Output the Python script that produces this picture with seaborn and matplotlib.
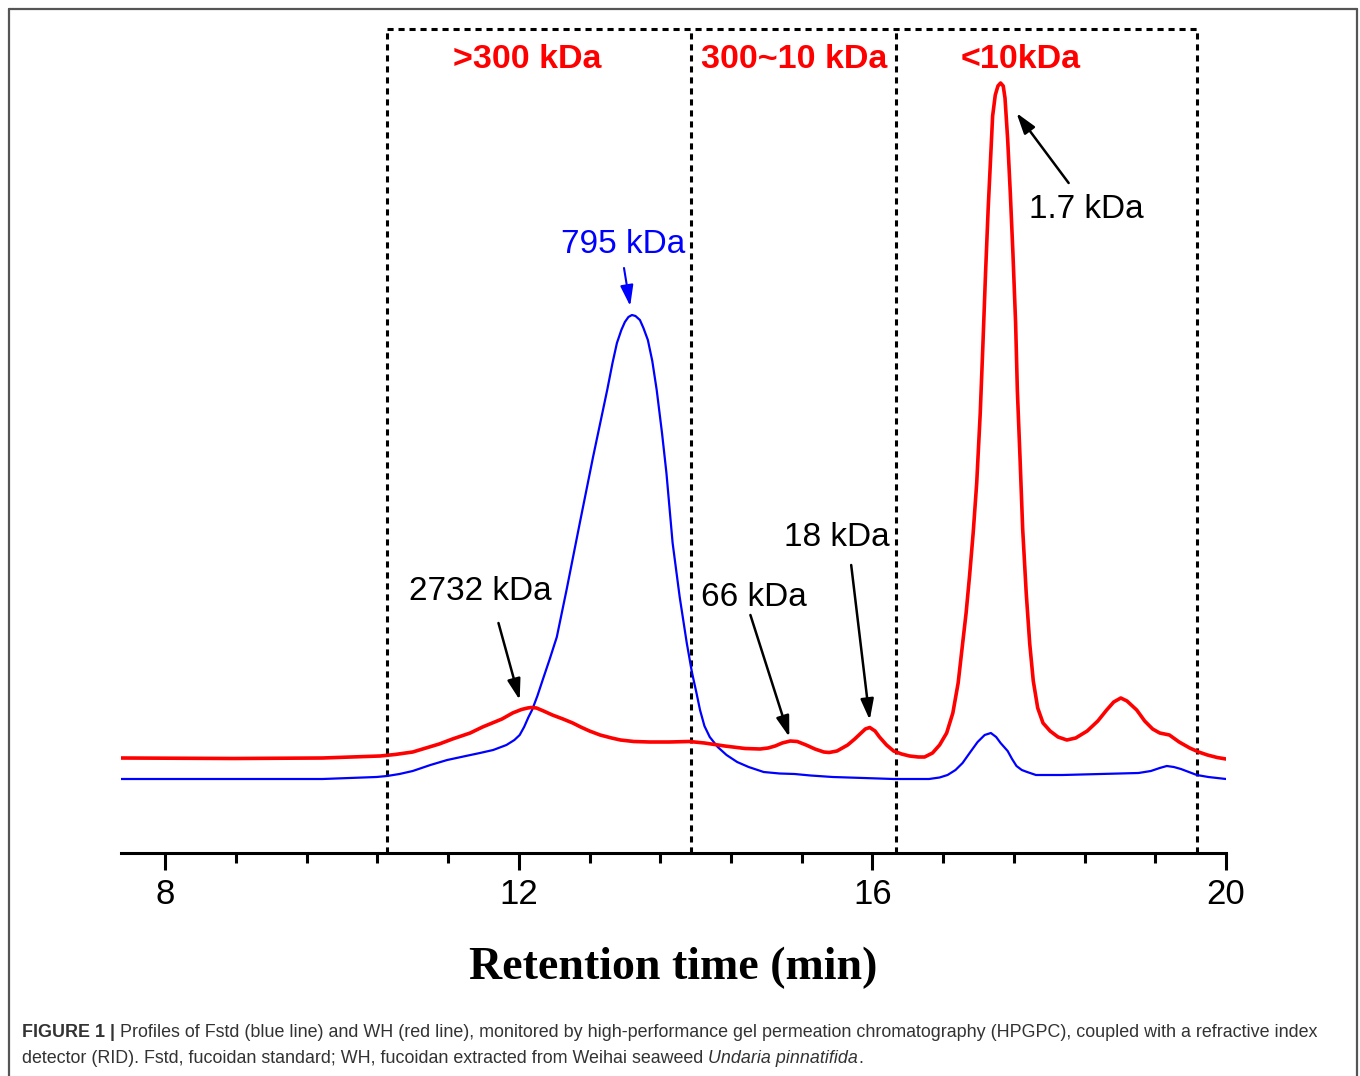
import pandas as pd
import matplotlib
matplotlib.use("Agg")
import matplotlib.pyplot as plt
import seaborn as sns
from matplotlib.ticker import MultipleLocator
from matplotlib.lines import Line2D
from matplotlib.text import Annotation

# Fstd (blue) trace: retention time (min) / RI signal (a.u.)
blue_time = [7.5, 9.78, 10.39, 10.51, 10.65, 10.80, 11.00, 11.19, 11.40, 11.56,
             11.71, 11.86, 11.95, 12.01, 12.06, 12.11, 12.15, 12.21, 12.27, 12.35,
             12.43, 12.54, 12.69, 12.84, 13.00, 13.06, 13.11, 13.16, 13.20, 13.24,
             13.28, 13.32, 13.37, 13.41, 13.46, 13.51, 13.56, 13.62, 13.67, 13.74,
             13.82, 13.90, 13.96, 14.01, 14.05, 14.10, 14.16, 14.25, 14.35, 14.47,
             14.60, 14.77, 14.95, 15.12, 15.30, 15.55, 15.90, 16.24, 16.64, 16.76,
             16.85, 16.94, 17.02, 17.10, 17.19, 17.27, 17.34, 17.40, 17.45, 17.53,
             17.58, 17.63, 17.69, 17.75, 17.85, 18.00, 18.15, 18.58, 19.01, 19.15,
             19.25, 19.33, 19.41, 19.49, 19.58, 19.67, 19.80, 20.0]
blue_signal = [74, 74, 76, 77, 79, 82, 88, 93, 97, 100,
               103, 108, 113, 118, 126, 136, 143, 157, 173, 194,
               216, 263, 330, 396, 463, 490, 510, 523, 531, 536,
               538, 537, 533, 525, 513, 492, 463, 420, 380, 310,
               256, 210, 180, 160, 143, 127, 116, 106, 98, 91,
               86, 81, 79.5, 79, 77.5, 76, 75, 74, 74, 75.5,
               78, 83, 90, 100, 111, 118, 120, 116, 110, 102,
               94, 87, 83, 81, 78, 78, 78, 79, 80, 82,
               85, 87, 86, 84, 81, 78, 76, 74]

# WH (red) trace
red_time = [7.5, 8.78, 9.78, 10.43, 10.60, 10.80, 10.95, 11.10, 11.25, 11.45,
            11.59, 11.70, 11.81, 11.93, 12.03, 12.10, 12.14, 12.20, 12.28, 12.38,
            12.50, 12.61, 12.70, 12.80, 12.92, 13.05, 13.15, 13.30, 13.48, 13.70,
            13.93, 14.10, 14.33, 14.56, 14.73, 14.82, 14.90, 14.98, 15.07, 15.15,
            15.25, 15.35, 15.45, 15.51, 15.60, 15.72, 15.80, 15.86, 15.92, 15.97,
            16.03, 16.08, 16.16, 16.24, 16.33, 16.42, 16.52, 16.59, 16.68, 16.76,
            16.84, 16.91, 16.97, 17.02, 17.06, 17.10, 17.14, 17.18, 17.22, 17.25,
            17.28, 17.31, 17.34, 17.36, 17.39, 17.42, 17.45, 17.48, 17.50, 17.53,
            17.56, 17.59, 17.62, 17.64, 17.67, 17.70, 17.74, 17.78, 17.82, 17.87,
            17.93, 18.01, 18.10, 18.20, 18.30, 18.43, 18.55, 18.65, 18.73, 18.81,
            18.88, 18.99, 19.08, 19.17, 19.25, 19.36, 19.47, 19.59, 19.69, 19.79,
            19.90, 20.0]
red_signal = [95, 94.5, 95, 97, 98.5, 101, 105, 109, 114, 120,
              126, 130, 134, 140, 143.5, 145, 145.5, 145, 142, 138,
              134, 130, 126, 122, 118, 115, 113, 111.5, 111, 111,
              111.5, 110, 107, 104.5, 104, 105, 107, 110, 112, 111.5,
              108, 104, 101, 100.5, 102, 108, 114, 119, 124, 125.5,
              122, 116, 108, 102, 99, 97, 96, 96, 100, 108,
              120, 140, 170, 209, 240, 278, 320, 370, 440, 508,
              580, 645, 700, 737, 758, 767, 770, 767, 755, 714,
              660, 599, 530, 462, 395, 324, 260, 209, 172, 145,
              130, 122, 116, 113, 115, 122, 132, 143, 151, 155,
              152, 143, 132, 124, 120, 118, 111, 105, 101, 98,
              95.5, 94]

# molecular weight fractions (region edges in min) and their labels
region_edges = [10.51, 13.95, 16.27, 19.67]
region_labels = [">300 kDa", "300~10 kDa", "<10kDa"]
region_label_x = [12.10, 15.12, 17.68]

# peak annotations: label, text position, arrow tail, arrow head, colour
peak_labels = ["795 kDa", "2732 kDa", "66 kDa", "18 kDa", "1.7 kDa"]
peak_text_xy = [(13.185, 609), (11.565, 261), (14.664, 256), (15.597, 315), (18.42, 644)]
peak_arrow_from = [(13.19, 585), (11.77, 230), (14.62, 238), (15.76, 288), (18.22, 670)]
peak_arrow_to = [(13.26, 547), (12.01, 153), (15.06, 116), (15.97, 133), (17.63, 740)]
peak_colors = ["#0000ff", "black", "black", "black", "black"]

sns.set_style("ticks")
plt.rcParams["font.family"] = ["Liberation Sans", "DejaVu Sans"]
plt.rcParams["text.color"] = "black"
plt.rcParams["axes.labelcolor"] = "black"
plt.rcParams["xtick.color"] = "black"

W, H = 1360, 1076
fig = plt.figure(figsize=(W / 100, H / 100), dpi=100)
ax = fig.add_axes([121 / W, (H - 853) / H, (1226 - 121) / W, (853 - 20) / H])

df_blue = pd.DataFrame({"time": blue_time, "signal": blue_signal})
df_red = pd.DataFrame({"time": red_time, "signal": red_signal})
sns.lineplot(data=df_blue, x="time", y="signal", ax=ax, color="#0000ff",
             lw=1.6, estimator=None, sort=False, zorder=3)
sns.lineplot(data=df_red, x="time", y="signal", ax=ax, color="#ff0000",
             lw=2.6, estimator=None, sort=False, zorder=4)

ax.set_xlim(7.5, 20.0)
ax.set_ylim(0, 833)
box_top = 824

# dotted boxes around the fractions
dot = (0, (2, 1.6))
for x in region_edges:
    ax.plot([x, x], [0, box_top], color="black", lw=2.2, ls=dot, zorder=2)
ax.plot([region_edges[0], region_edges[-1]], [box_top, box_top],
        color="black", lw=2.2, ls=dot, zorder=2)

for lab, x in zip(region_labels, region_label_x):
    ax.text(x, 794, lab, color="#ff0000", fontsize=24.5, fontweight="bold",
            ha="center", va="center")

for lab, txy, a0, a1, c in zip(peak_labels, peak_text_xy, peak_arrow_from,
                               peak_arrow_to, peak_colors):
    ax.text(txy[0], txy[1], lab, color=c, fontsize=24, ha="center", va="center")
    ax.annotate("", xy=a1, xytext=a0,
                arrowprops=dict(arrowstyle="-|>,head_length=0.7,head_width=0.22",
                                color=c, lw=1.8 if c == "black" else 1.5,
                                mutation_scale=18, shrinkA=0, shrinkB=0))

# axis styling: only the bottom spine
for s in ["left", "right", "top"]:
    ax.spines[s].set_visible(False)
ax.spines["bottom"].set_linewidth(2.2)
ax.spines["bottom"].set_color("black")
ax.set_yticks([])
ax.set_ylabel("")
ax.set_xticks([8, 12, 16, 20])
ax.xaxis.set_minor_locator(MultipleLocator(0.8))
ax.tick_params(axis="x", which="major", direction="out", length=12, width=2.2,
               labelsize=25, pad=6, colors="black")
ax.tick_params(axis="x", which="minor", direction="out", length=7, width=2.2,
               colors="black")
ax.set_xlabel("Retention time (min)", fontsize=33, fontweight="bold", color="black",
              fontfamily=["Liberation Serif", "DejaVu Serif"])
ax.xaxis.set_label_coords(0.4995, -0.112)
ax.xaxis.label.set_va("top")

# figure frame (left, top, right)
fx0, fx1, fy1 = 8.5 / W, 1356.5 / W, 1 - 8.5 / H
for xs, ys in [([fx0, fx0], [0, fy1]), ([fx0, fx1], [fy1, fy1]), ([fx1, fx1], [0, fy1])]:
    fig.add_artist(Line2D(xs, ys, transform=fig.transFigure, color="#555555", lw=1.6))

# caption with mixed styles
cap_color = "#333333"
cap_size = 12.9
first = fig.text(22 / W, 1 - 1037 / H, "FIGURE 1 |", fontsize=cap_size,
                 fontweight="bold", color=cap_color, va="baseline")
fig.add_artist(Annotation(
    " Profiles of Fstd (blue line) and WH (red line), monitored by "
    "high-performance gel permeation chromatography (HPGPC), coupled "
    "with a refractive index", xy=(1, 0), xycoords=first, va="bottom", ha="left",
    fontsize=cap_size, color=cap_color))

prev = fig.text(22 / W, 1 - 1063 / H,
                "detector (RID). Fstd, fucoidan standard; WH, fucoidan extracted "
                "from Weihai seaweed ", fontsize=cap_size, color=cap_color,
                va="baseline")
for txt, style in [("Undaria pinnatifida", "italic"), (".", "normal")]:
    prev = fig.add_artist(Annotation(
        txt, xy=(1, 0), xycoords=prev, va="bottom", ha="left",
        fontsize=cap_size, color=cap_color, fontstyle=style))

fig.savefig("out.png", dpi=100, facecolor="white")
